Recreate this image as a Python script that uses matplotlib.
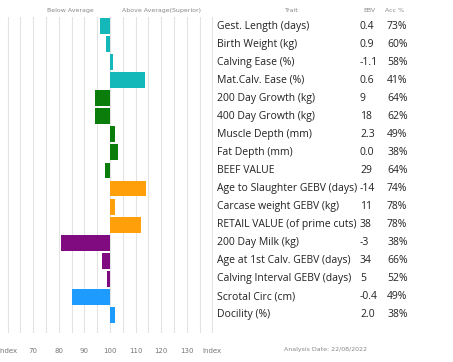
import numpy as np
import matplotlib.pyplot as plt
from matplotlib import transforms

traits = ["Gest. Length (days)", "Birth Weight (kg)", "Calving Ease (%)", "Mat.Calv. Ease (%)",
          "200 Day Growth (kg)", "400 Day Growth (kg)", "Muscle Depth (mm)", "Fat Depth (mm)",
          "BEEF VALUE", "Age to Slaughter GEBV (days)", "Carcase weight GEBV (kg)",
          "RETAIL VALUE (of prime cuts)", "200 Day Milk (kg)", "Age at 1st Calv. GEBV (days)",
          "Calving Interval GEBV (days)", "Scrotal Circ (cm)", "Docility (%)"]
ebv = ["0.4", "0.9", "-1.1", "0.6", "9", "18", "2.3", "0.0", "29", "-14", "11", "38",
       "-3", "34", "5", "-0.4", "2.0"]
acc = ["73%", "60%", "58%", "41%", "64%", "62%", "49%", "38%", "64%", "74%", "78%", "78%",
       "38%", "66%", "52%", "49%", "38%"]
index = [96, 98.5, 101, 113.5, 94, 94, 102, 103, 98, 114, 102, 112, 81, 97, 98.8, 85, 102]
groups = ["c"] * 4 + ["g"] * 5 + ["o"] * 3 + ["p"] * 3 + ["b"] * 2
group_colors = {"c": "#14b8b8", "g": "#0a7d0a", "o": "#ff9f0a", "p": "#800a80", "b": "#1e9bff"}

tick_vals = [60, 70, 80, 90, 100, 110, 120, 130, 140]
tick_labels = ["Index", "70", "80", "90", "100", "110", "120", "130", "Index"]

fig = plt.figure(figsize=(4.53, 3.62), dpi=100)
ax = fig.add_axes([0, 1 - 333 / 362, 220 / 453, 316 / 362])

y = np.arange(len(traits))
left = [min(v, 100) for v in index]
width = [abs(v - 100) for v in index]
ax.barh(y, width, left=left, height=0.88, color=[group_colors[g] for g in groups], zorder=3)

for gx in np.arange(60, 141, 5):
    ax.axvline(gx, color="#e3e3e3", lw=0.8, zorder=1)

ax.set_xlim(57, 143)
ax.set_ylim(17.0, -0.5)
ax.set_xticks(tick_vals)
ax.set_xticklabels(tick_labels, fontsize=5, color="#777777")
ax.tick_params(axis="x", length=0, pad=11)
ax.set_yticks([])
for s in ax.spines.values():
    s.set_visible(False)

ax.text(84.5, -0.85, "Below Average", fontsize=4.5, color="#888888", ha="center", va="center")
ax.text(120, -0.85, "Above Average(Superior)", fontsize=4.5, color="#888888", ha="center", va="center")

tr = transforms.blended_transform_factory(fig.transFigure, ax.transData)
fnt = "Open Sans"
for i in range(len(traits)):
    ax.text(217 / 453, i, traits[i], transform=tr, fontsize=7.5, family=fnt, va="center", color="#222222")
    ax.text(360 / 453, i, ebv[i], transform=tr, fontsize=7.5, family=fnt, va="center", color="#222222")
    ax.text(387 / 453, i, acc[i], transform=tr, fontsize=7.5, family=fnt, va="center", color="#222222")

ax.text(292 / 453, -0.85, "Trait", transform=tr, fontsize=4.5, color="#888888", ha="center", va="center")
ax.text(369 / 453, -0.85, "EBV", transform=tr, fontsize=4.5, color="#888888", ha="center", va="center")
ax.text(395 / 453, -0.85, "Acc %", transform=tr, fontsize=4.5, color="#888888", ha="center", va="center")
fig.text(326 / 453, 1 - 350 / 362, "Analysis Date: 22/08/2022", fontsize=4.5, color="#888888",
         ha="center", va="center")

fig.savefig("out.png", dpi=100)
